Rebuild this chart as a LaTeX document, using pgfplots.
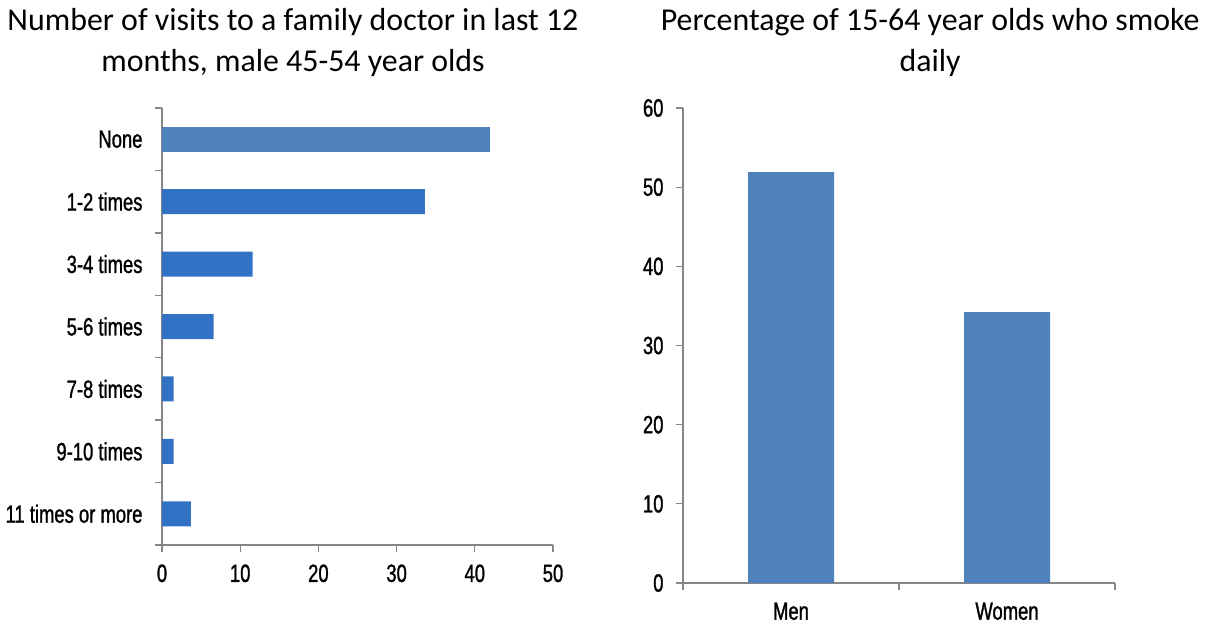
\documentclass[border=0pt]{standalone}
\usepackage{fontspec}
\setmainfont{Carlito}
\newfontfamily\cond[FakeStretch=0.74, FakeBold=1.2]{Liberation Sans}
\usepackage{pgfplots}
\pgfplotsset{compat=1.18}
\definecolor{barA}{HTML}{4F81BD}
\definecolor{barB}{HTML}{3172C4}
\definecolor{axgray}{HTML}{868686}
\begin{document}
\begin{tikzpicture}
\useasboundingbox (0,0) rectangle (1212bp,625bp);
\pgfplotsset{every axis/.append style={
  scale only axis, anchor=south west,
  axis lines=left, axis line style={-, axgray, line width=1.3bp},
  tick style={axgray, line width=1.3bp}, tick align=outside,
  major tick length=7bp, minor tick length=7bp,
  tick label style={font=\fontsize{25}{28}\cond, black},
  yticklabel style={xshift=-9bp},
  xticklabel style={yshift=-9bp},
  /pgf/number format/assume math mode=true,
  title style={font=\fontsize{32}{41}\selectfont, align=center, anchor=north, inner sep=0pt}}}
\begin{axis}[at={(162bp,80bp)}, width=391bp, height=437bp,
  xmin=0, xmax=50, xtick={0,10,...,50},
  ymin=-0.5, ymax=6.5, y dir=reverse,
  ytick={0,...,6},
  yticklabels={None,1-2 times,3-4 times,5-6 times,7-8 times,9-10 times,11 times or more},
  minor ytick={-0.5,0.5,...,6.5},
  every major y tick/.style={draw=none},
  xbar, bar width=25bp, bar shift=0pt,
  title={Number of visits to a family doctor in last 12\\months, male 45-54 year olds},
  title style={at={(0.335,1.2153)}}]
\addplot[xbar, bar shift=0pt, fill=barA, draw=none] coordinates {(41.9,0)};
\addplot[xbar, bar shift=0pt, fill=barB, draw=none] coordinates {(33.6,1) (11.6,2) (6.6,3) (1.5,4) (1.5,5) (3.7,6)};
\end{axis}
\begin{axis}[at={(683bp,42bp)}, width=432bp, height=475bp,
  xmin=-0.5, xmax=1.5, ymin=0, ymax=60, ytick={0,10,...,60},
  xtick={0,1}, xticklabels={Men,Women},
  minor xtick={-0.5,0.5,1.5},
  every major x tick/.style={draw=none},
  ybar, bar width=86bp, bar shift=0pt,
  title={Percentage of 15-64 year olds who smoke\\daily},
  title style={at={(0.572,1.1979)}}]
\addplot[ybar, bar shift=0pt, fill=barA, draw=none] coordinates {(0,51.9) (1,34.2)};
\end{axis}
\end{tikzpicture}
\end{document}
